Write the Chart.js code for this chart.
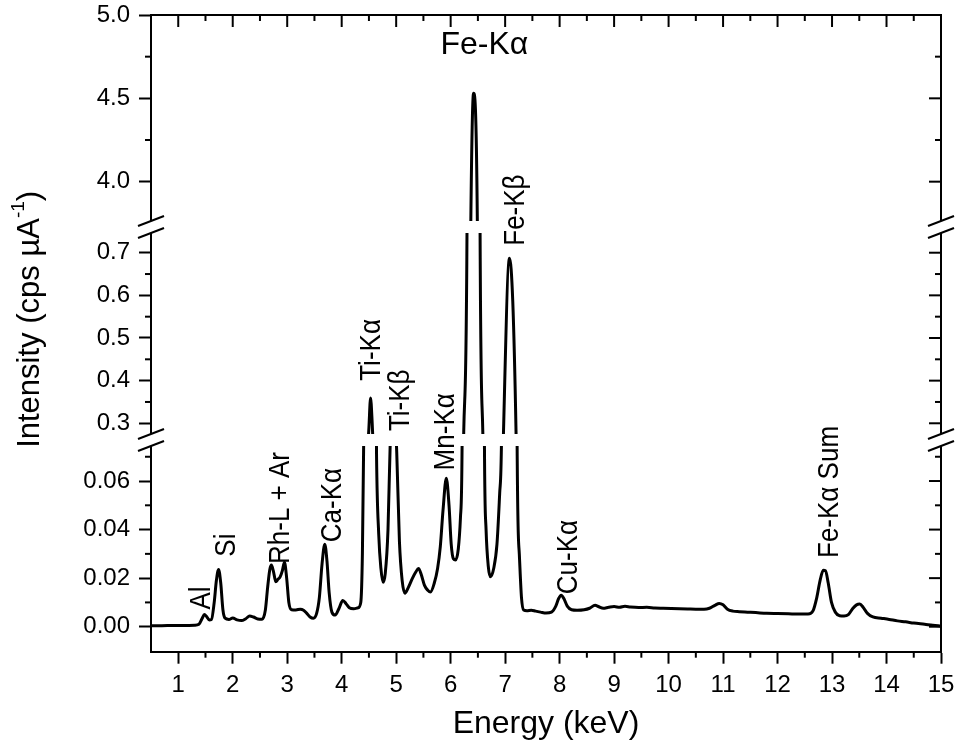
<!DOCTYPE html>
<html>
<head>
<meta charset="utf-8">
<script src="https://cdn.jsdelivr.net/npm/chart.js@4.4.1/dist/chart.umd.min.js"></script>
<style>
  html, body { margin: 0; padding: 0; background: #fff; overflow: hidden; }
  #wrap { width: 957px; height: 753px; position: relative; }
  canvas { display: block; }
</style>
</head>
<body>
<div id="wrap"><canvas id="spec"></canvas></div>
<script>
// -- dados do espectro --
const energy = [
  0.50, 0.70, 0.90, 1.10, 1.30, 1.38, 1.44, 1.48, 1.52, 1.57, 1.61, 1.66, 1.70, 1.74, 1.78, 1.82, 1.86, 1.93,
  2.00, 2.08, 2.16, 2.24, 2.31, 2.38, 2.46, 2.54, 2.60, 2.64, 2.68, 2.71, 2.75, 2.79, 2.83, 2.87, 2.91, 2.95, 2.99,
  3.03, 3.08, 3.16, 3.24, 3.30, 3.36, 3.42, 3.48, 3.54, 3.59, 3.64, 3.69, 3.73, 3.77, 3.82, 3.88, 3.95,
  4.02, 4.08, 4.14, 4.22, 4.30, 4.35, 4.38, 4.41, 4.46, 4.50, 4.53, 4.56, 4.60, 4.64, 4.68, 4.72, 4.76, 4.80, 4.85, 4.89, 4.95,
  5.01, 5.06, 5.11, 5.16, 5.22, 5.30, 5.36, 5.41, 5.46, 5.52, 5.58, 5.63, 5.70, 5.76, 5.81, 5.86, 5.92, 5.97,
  6.01, 6.05, 6.09, 6.14, 6.18, 6.21, 6.24, 6.30, 6.37, 6.42, 6.49, 6.54, 6.59, 6.62, 6.65, 6.69, 6.73, 6.79, 6.85, 6.90, 6.94, 6.97,
  7.08, 7.20, 7.22, 7.26, 7.30, 7.34, 7.40, 7.48, 7.56, 7.65, 7.75, 7.85, 7.93, 7.98,
  8.03, 8.08, 8.14, 8.22, 8.32, 8.45, 8.55, 8.65, 8.72, 8.80, 8.90,
  9.00, 9.10, 9.20, 9.30, 9.45, 9.60, 9.75, 9.90,
  10.05, 10.20, 10.35, 10.50, 10.65, 10.75, 10.85, 10.93,
  11.00, 11.08, 11.18, 11.30, 11.45, 11.60, 11.80,
  12.00, 12.20, 12.40, 12.56, 12.65, 12.72, 12.78, 12.84, 12.88, 12.93, 12.99,
  13.06, 13.14, 13.22, 13.30, 13.38, 13.45, 13.51, 13.57, 13.65, 13.75, 13.90,
  14.05, 14.20, 14.35, 14.50, 14.70, 14.85, 15.00
];
const intensity = [
  0.0004, 0.0004, 0.0005, 0.0005, 0.0006, 0.0010, 0.0035, 0.0050, 0.0042, 0.0028, 0.0030, 0.0100, 0.0190, 0.0236, 0.0180, 0.0070, 0.0035, 0.0030,
  0.0036, 0.0028, 0.0025, 0.0033, 0.0044, 0.0040, 0.0032, 0.0031, 0.0070, 0.0160, 0.0235, 0.0254, 0.0225, 0.0185, 0.0195, 0.0205, 0.0230, 0.0265, 0.0200,
  0.0100, 0.0070, 0.0069, 0.0072, 0.0068, 0.0055, 0.0040, 0.0035, 0.0055, 0.0120, 0.0260, 0.0340, 0.0270, 0.0140, 0.0060, 0.0048, 0.0075,
  0.0108, 0.0095, 0.0078, 0.0074, 0.0078, 0.0100, 0.0300, 0.0900, 0.2000, 0.2900, 0.3590, 0.3000, 0.1800, 0.0700, 0.0380, 0.0240, 0.0183, 0.0220, 0.0400, 0.0750, 0.1000,
  0.0720, 0.0350, 0.0190, 0.0138, 0.0160, 0.0200, 0.0225, 0.0240, 0.0215, 0.0170, 0.0150, 0.0143, 0.0180, 0.0240, 0.0330, 0.0480, 0.0611, 0.0500,
  0.0340, 0.0280, 0.0275, 0.0320, 0.0450, 0.0750, 0.2800, 0.7500, 3.7600, 4.5300, 3.7600, 0.7500, 0.2800, 0.0750, 0.0400, 0.0250, 0.0206, 0.0240, 0.0340, 0.0550, 0.0900, 0.2800,
  0.6870, 0.2800, 0.0750, 0.0300, 0.0120, 0.0069, 0.0066, 0.0068, 0.0064, 0.0060, 0.0056, 0.0060, 0.0085, 0.0115,
  0.0130, 0.0115, 0.0085, 0.0070, 0.0068, 0.0070, 0.0076, 0.0088, 0.0082, 0.0076, 0.0080,
  0.0083, 0.0080, 0.0084, 0.0081, 0.0079, 0.0080, 0.0077, 0.0076,
  0.0075, 0.0074, 0.0073, 0.0072, 0.0072, 0.0076, 0.0088, 0.0096,
  0.0090, 0.0072, 0.0064, 0.0062, 0.0060, 0.0058, 0.0055,
  0.0054, 0.0053, 0.0052, 0.0052, 0.0065, 0.0120, 0.0190, 0.0232, 0.0230, 0.0180, 0.0100,
  0.0060, 0.0045, 0.0044, 0.0050, 0.0075, 0.0090, 0.0093, 0.0080, 0.0055, 0.0040, 0.0035,
  0.0030, 0.0024, 0.0020, 0.0015, 0.0010, 0.0006, 0.0003
];

// ticks
const xTicks = [1, 2, 3, 4, 5, 6, 7, 8, 9, 10, 11, 12, 13, 14, 15];
const xMinor = [1.5, 2.5, 3.5, 4.5, 5.5, 6.5, 7.5, 8.5, 9.5, 10.5, 11.5, 12.5, 13.5, 14.5];
const topTicks = [4.0, 4.5, 5.0];
const topMinor = [4.25, 4.75];
const midTicks = [0.3, 0.4, 0.5, 0.6, 0.7];
const midMinor = [0.35, 0.45, 0.55, 0.65];
const lowTicks = [0.00, 0.02, 0.04, 0.06];
const lowMinor = [0.01, 0.03, 0.05, 0.07];

// rótulos dos picos
const peakNames = ['Al', 'Si', 'Rh-L + Ar', 'Ca-K\u03b1', 'Ti-K\u03b1', 'Ti-K\u03b2', 'Mn-K\u03b1', 'Fe-K\u03b2', 'Cu-K\u03b1', 'Fe-K\u03b1 Sum', 'Fe-K\u03b1'];
const peakLabelE = [1.44, 1.90, 2.88, 3.84, 4.56, 5.08, 5.91, 7.20, 8.17, 12.96, 6.62];
const peakLabelI = [0.0118, 0.0336, 0.0489, 0.0501, 0.472, 0.354, 0.28, 0.80, 0.0287, 0.0555, 4.82];
const peakLabelAxis = ['yLow', 'yLow', 'yLow', 'yLow', 'yMid', 'yMid', 'yMid', 'yMid', 'yLow', 'yLow', 'yTop'];
const peakLabelVertical = [true, true, true, true, true, true, true, true, true, true, false];

const FONT = "'Liberation Sans', Arial, sans-serif";
const majorLen = 12;
const minorLen = 6;
const gapHalf = 6;

function line(ctx, x1, y1, x2, y2) {
    ctx.beginPath();
    ctx.moveTo(x1, y1);
    ctx.lineTo(x2, y2);
    ctx.stroke();
}

//  ticks espelhados, ticks menores, quebras do eixo e rótulos
const axisExtras = {
    id: 'axisExtras',
    afterDraw(chart) {
        const ctx = chart.ctx;
        const a = chart.chartArea;
        const xs = chart.scales.x;
        const yAxes = [
            { s: chart.scales.yTop, major: topTicks, minor: topMinor },
            { s: chart.scales.yMid, major: midTicks, minor: midMinor },
            { s: chart.scales.yLow, major: lowTicks, minor: lowMinor }
        ].sort((p, q) => p.s.top - q.s.top);

        ctx.save();
        ctx.strokeStyle = '#000';
        ctx.lineWidth = 2;
        ctx.lineCap = 'butt';

        line(ctx, a.left - 1, a.top, a.right + 1, a.top);
        xTicks.forEach(v => {
            const px = xs.getPixelForValue(v);
            line(ctx, px, a.top, px, a.top + majorLen);
        });
        xMinor.forEach(v => {
            const px = xs.getPixelForValue(v);
            line(ctx, px, a.bottom, px, a.bottom + minorLen);
            line(ctx, px, a.top, px, a.top + minorLen);
        });

        yAxes.forEach(({ s, major, minor }) => {
            line(ctx, a.right, s.top, a.right, s.bottom);
            major.forEach(v => {
                const py = s.getPixelForValue(v);
                line(ctx, a.right - majorLen, py, a.right, py);
            });
            minor.forEach(v => {
                const py = s.getPixelForValue(v);
                line(ctx, a.left - minorLen, py, a.left, py);
                line(ctx, a.right - minorLen, py, a.right, py);
            });
        });

        // quebras
        for (let i = 0; i < yAxes.length - 1; i++) {
            const b = yAxes[i].s.bottom;
            ctx.fillStyle = '#fff';
            ctx.fillRect(a.left - majorLen - 3, b - gapHalf, a.right - a.left + majorLen + 20, gapHalf * 2);
            [a.left, a.right].forEach(ax => {
                [b - gapHalf, b + gapHalf].forEach(by => {
                    line(ctx, ax - 13, by + 5, ax + 13, by - 5);
                });
            });
        }

        // rótulos dos picos
        ctx.fillStyle = '#000';
        ctx.textAlign = 'center';
        ctx.textBaseline = 'middle';
        peakNames.forEach((name, i) => {
            const px = xs.getPixelForValue(peakLabelE[i]);
            const py = chart.scales[peakLabelAxis[i]].getPixelForValue(peakLabelI[i]);
            ctx.save();
            ctx.translate(px, py);
            if (peakLabelVertical[i]) {
                ctx.font = '26px ' + FONT;
                ctx.scale(1.12, 1);
                ctx.rotate(-Math.PI / 2);
            } else {
                ctx.font = '32px ' + FONT;
            }
            ctx.fillText(name, 0, 0);
            ctx.restore();
        });

        // título do eixo y com expoente
        const main = 'Intensity (cps \u00b5A';
        ctx.save();
        ctx.translate(30, (a.top + a.bottom) / 2 - 14);
        ctx.rotate(-Math.PI / 2);
        ctx.textAlign = 'left';
        ctx.textBaseline = 'middle';
        ctx.font = '31px ' + FONT;
        const wMain = ctx.measureText(main).width;
        const wClose = ctx.measureText(')').width;
        ctx.font = '19px ' + FONT;
        const wSup = ctx.measureText('-1').width;
        let x0 = -(wMain + wSup + wClose) / 2;
        ctx.font = '31px ' + FONT;
        ctx.fillText(main, x0, 0);
        ctx.font = '19px ' + FONT;
        ctx.fillText('-1', x0 + wMain, -11);
        ctx.font = '31px ' + FONT;
        ctx.fillText(')', x0 + wMain + wSup, 0);
        ctx.restore();

        ctx.restore();
    }
};

function yScale(min, max, weight, ticksArr, decimals) {
    return {
        type: 'linear',
        position: 'left',
        stack: 'spec',
        stackWeight: weight,
        min: min,
        max: max,
        afterBuildTicks: s => { s.ticks = ticksArr.map(v => ({ value: v })); },
        afterFit: s => {
            s.width = 151;
            s.paddingTop = 0;
            s.paddingBottom = 0;
        },
        grid: { drawOnChartArea: false, tickLength: majorLen, tickWidth: 2, tickColor: '#000' },
        border: { color: '#000', width: 2 },
        ticks: {
            color: '#000',
            padding: 9,
            autoSkip: false,
            font: { family: FONT, size: 24 },
            callback: v => Number(v).toFixed(decimals)
        }
    };
}

const datasets = ['yTop', 'yMid', 'yLow'].map(id => ({
    data: energy.map((e, i) => ({ x: e, y: intensity[i] })),
    yAxisID: id,
    borderColor: '#000',
    borderWidth: 3,
    pointRadius: 0,
    fill: false,
    cubicInterpolationMode: 'monotone'
}));

window.onload = () => {
    const ctx = document.getElementById('spec').getContext('2d');
    new Chart(ctx, {
        type: 'line',
        data: { datasets: datasets },
        options: {
            responsive: true,
            maintainAspectRatio: false,
            animation: false,
            layout: { autoPadding: false, padding: { top: 15, right: 16, left: 0, bottom: 0 } },
            plugins: { legend: { display: false }, tooltip: { enabled: false } },
            scales: {
                x: {
                    type: 'linear',
                    min: 0.5,
                    max: 15,
                    afterBuildTicks: s => { s.ticks = xTicks.map(v => ({ value: v })); },
                    afterFit: s => {
                        s.height = 101.3;
                        s.paddingLeft = 0;
                        s.paddingRight = 0;
                    },
                    grid: { drawOnChartArea: false, tickLength: majorLen, tickWidth: 2, tickColor: '#000' },
                    border: { color: '#000', width: 2 },
                    ticks: { color: '#000', padding: 7, maxRotation: 0, autoSkip: false, font: { family: FONT, size: 24 } },
                    title: {
                        display: true,
                        text: 'Energy (keV)',
                        color: '#000',
                        font: { family: FONT, size: 32 },
                        padding: { top: 0, bottom: 10 }
                    }
                },
                // empilhados de baixo para cima
                yLow: yScale(-0.0103, 0.0769, 211.7, lowTicks, 2),
                yMid: yScale(0.2608, 0.7603, 213, midTicks, 1),
                yTop: yScale(3.728, 5.0, 212, topTicks, 1)
            }
        },
        plugins: [axisExtras]
    });
};
</script>
</body>
</html>
